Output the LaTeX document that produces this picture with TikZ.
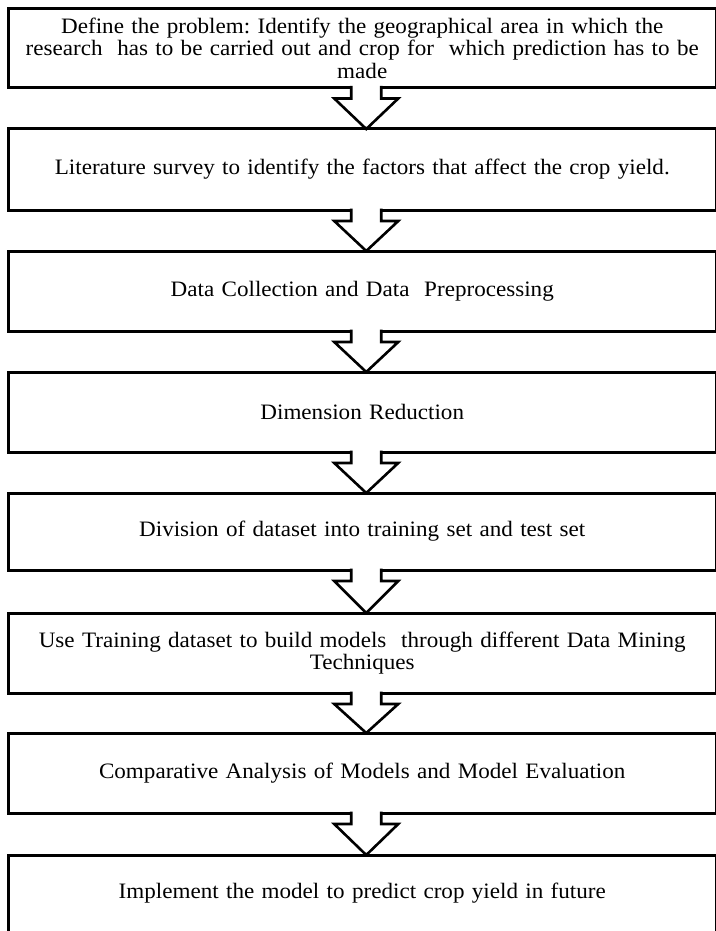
\documentclass[tikz,border=0pt]{standalone}
\usepackage{fontspec}
\setmainfont[FakeStretch=1.05]{Liberation Serif}
\usetikzlibrary{calc}
\tikzset{
  box/.style={draw=black, line width=3pt, rectangle, outer sep=0pt, inner sep=0pt,
    minimum width=707.5pt, minimum height=80pt, text width=700pt, align=center,
    font=\fontsize{22}{22.5}\selectfont\frenchspacing},
  arr/.style={draw=black, line width=2.6pt, line join=miter},
}
\newcommand{\flowarrow}[2]{%
  \coordinate (#1-t) at ($(#1.south)+(4,0)$);
  \coordinate (#1-tip) at ($(#2.north)+(4,0)$);
  \fill[white] ($(#1-t)+(-15,-1.7)$) -- ($(#1-t)+(-15,11)$) -- ($(#1-t)+(-32,11)$) -- (#1-tip)
     -- ($(#1-t)+(32,11)$) -- ($(#1-t)+(15,11)$) -- ($(#1-t)+(15,-1.7)$) -- cycle;
  \draw[arr] ($(#1-t)+(-15,-1.5)$) -- ($(#1-t)+(-15,11)$) -- ($(#1-t)+(-32,11)$) -- (#1-tip)
     -- ($(#1-t)+(32,11)$) -- ($(#1-t)+(15,11)$) -- ($(#1-t)+(15,-1.5)$);
}
\begin{document}
\begin{tikzpicture}[x=1pt, y=-1pt]
\useasboundingbox (0,0) rectangle (715,931);
\fill[white] (0,0) rectangle (715,931);
\node[box, minimum height=79pt] (b1) at (362.25,48) {Define the problem: Identify the geographical area in which the\\ research{} {} has to be carried out and crop for{} {} which prediction has to be\\ made};
\node[box, minimum height=81pt] (b2) at (362.25,169.5) {Literature survey to identify the factors that affect the crop yield.};
\node[box] (b3) at (362.25,291) {Data Collection and Data{} {} Preprocessing};
\node[box] (b4) at (362.25,412) {Dimension Reduction};
\node[box, minimum height=77pt] (b5) at (362.25,531.5) {Division of dataset into training set and test set};
\node[box] (b6) at (362.25,653) {Use Training dataset to build models{} {} through different Data Mining\\ Techniques};
\node[box] (b7) at (362.25,773) {Comparative Analysis of Models and Model Evaluation};
\node[box] (b8) at (362.25,895) {\raisebox{8pt}{Implement the model to predict crop yield in future}};
\flowarrow{b1}{b2}
\flowarrow{b2}{b3}
\flowarrow{b3}{b4}
\flowarrow{b4}{b5}
\flowarrow{b5}{b6}
\flowarrow{b6}{b7}
\flowarrow{b7}{b8}
\end{tikzpicture}
\end{document}
